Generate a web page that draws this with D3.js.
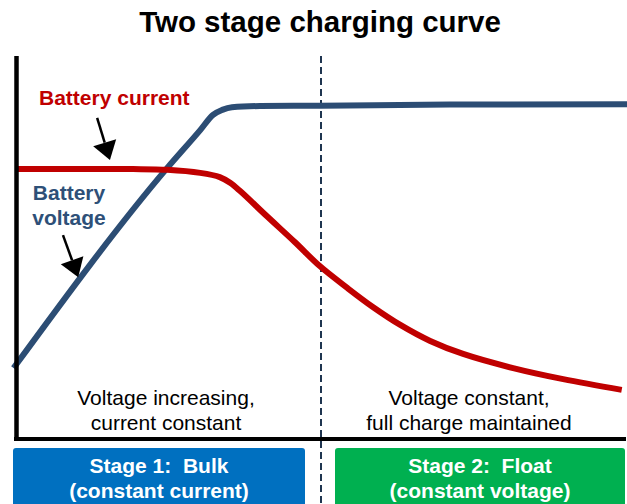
<!DOCTYPE html>
<html><head><meta charset="utf-8">
<script src="https://cdn.jsdelivr.net/npm/d3@7"></script>
<style>body{margin:0;background:#fff}svg{display:block}text{font-family:"Liberation Sans",Arial,sans-serif}</style>
</head><body><svg id="c" width="627" height="504"></svg>
<script>
// time (0-100) and level (0-100)
const currentX = [0, 19.2, 24.8, 30.2, 33.4, 35.1, 36.7, 41.1, 45.7, 49.8, 54.3, 58.5, 63.0, 67.9, 73.3, 81.5, 89.7, 99.3];
const currentY = [70.4, 70.4, 70.2, 69.4, 68.3, 66.8, 64.7, 58.1, 51.3, 45.0, 39.3, 34.3, 29.6, 25.4, 22.0, 18.3, 15.4, 12.6];
const voltageX = [-0.4, 24.8, 30.2, 32.3, 33.8, 35.4, 40.0, 49.8, 71.1, 100.2];
const voltageY = [18.3, 70.7, 80.6, 84.6, 85.9, 86.6, 86.9, 87.0, 87.3, 87.4];
const stageBoundary = 50;
const stageLabels = ["Stage 1:  Bulk", "Stage 2:  Float"];
const stageSubLabels = ["(constant current)", "(constant voltage)"];
const stageDescLine1 = ["Voltage increasing,", "Voltage constant,"];
const stageDescLine2 = ["current constant", "full charge maintained"];

const svg = d3.select("#c");
const x = d3.scaleLinear().domain([0, 100]).range([16, 626]);
const y = d3.scaleLinear().domain([0, 100]).range([438, 56]);

svg.append("text").attr("x", 320).attr("y", 32).attr("text-anchor", "middle")
  .attr("font-size", 29.5).attr("font-weight", "bold").attr("fill", "#000").text("Two stage charging curve");

// stage boxes
const boxes = [
  {x0: 13, x1: 305, color: "#0070C0"},
  {x0: 335, x1: 625, color: "#00B050"}
];
boxes.forEach((b, i) => {
  svg.append("rect").attr("x", b.x0).attr("y", 448).attr("width", b.x1 - b.x0).attr("height", 70)
    .attr("rx", 3).attr("fill", b.color);
  const cx = (b.x0 + b.x1) / 2;
  svg.append("text").attr("x", cx).attr("y", 473).attr("text-anchor", "middle").attr("font-size", 21)
    .attr("font-weight", "bold").attr("fill", "#fff").style("white-space", "pre").text(stageLabels[i]);
  svg.append("text").attr("x", cx).attr("y", 498).attr("text-anchor", "middle").attr("font-size", 21)
    .attr("font-weight", "bold").attr("fill", "#fff").text(stageSubLabels[i]);
});

// dashed boundary
svg.append("line").attr("x1", x(stageBoundary)).attr("x2", x(stageBoundary)).attr("y1", 56).attr("y2", 504)
  .attr("stroke", "#1f3550").attr("stroke-width", 2).attr("stroke-dasharray", "7,4");

// descriptions
const descX = [166, 469];
descX.forEach((cx, i) => {
  svg.append("text").attr("x", cx).attr("y", 405).attr("text-anchor", "middle").attr("font-size", 21).attr("fill", "#000").text(stageDescLine1[i]);
  svg.append("text").attr("x", cx).attr("y", 430).attr("text-anchor", "middle").attr("font-size", 21).attr("fill", "#000").text(stageDescLine2[i]);
});

// curves
const vline = d3.line().x(d => x(d[0])).y(d => y(d[1])).curve(d3.curveMonotoneX);
const cline = d3.line().x(d => x(d[0])).y(d => y(d[1])).curve(d3.curveCatmullRom.alpha(0.5));
svg.append("path").datum(voltageX.map((v, i) => [v, voltageY[i]])).attr("d", vline)
  .attr("fill", "none").attr("stroke", "#2c4d74").attr("stroke-width", 6);
svg.append("path").datum(currentX.map((v, i) => [v, currentY[i]])).attr("d", cline)
  .attr("fill", "none").attr("stroke", "#C00000").attr("stroke-width", 6);

// axes
svg.append("line").attr("x1", 16.5).attr("x2", 16.5).attr("y1", 56).attr("y2", 441).attr("stroke", "#000").attr("stroke-width", 4.5);
svg.append("line").attr("x1", 14).attr("x2", 626).attr("y1", 439).attr("y2", 439).attr("stroke", "#000").attr("stroke-width", 4);

// labels
svg.append("text").attr("x", 39).attr("y", 105).attr("font-size", 21).attr("font-weight", "bold").attr("fill", "#C00000").text("Battery current");
svg.append("text").attr("x", 69).attr("y", 200).attr("text-anchor", "middle").attr("font-size", 21).attr("font-weight", "bold").attr("fill", "#2e5078").text("Battery");
svg.append("text").attr("x", 69).attr("y", 225).attr("text-anchor", "middle").attr("font-size", 21).attr("font-weight", "bold").attr("fill", "#2e5078").text("voltage");

// arrows
const arrows = [
  {from: [13.3, 83.8], to: [15.4, 72.8]},
  {from: [7.7, 53.1], to: [10.2, 42.1]}
];
arrows.forEach(a => {
  const x1 = x(a.from[0]), y1 = y(a.from[1]), x2 = x(a.to[0]), y2 = y(a.to[1]);
  const dx = x2 - x1, dy = y2 - y1, L = Math.hypot(dx, dy), ux = dx / L, uy = dy / L;
  const hl = 18, hw = 12;
  const bx = x2 - ux * hl, by = y2 - uy * hl;
  svg.append("line").attr("x1", x1).attr("y1", y1).attr("x2", bx).attr("y2", by).attr("stroke", "#000").attr("stroke-width", 2.5);
  svg.append("polygon").attr("points", [[x2, y2], [bx - uy * hw, by + ux * hw], [bx + uy * hw, by - ux * hw]].map(p => p.join(",")).join(" "))
    .attr("fill", "#000");
});
</script></body></html>
